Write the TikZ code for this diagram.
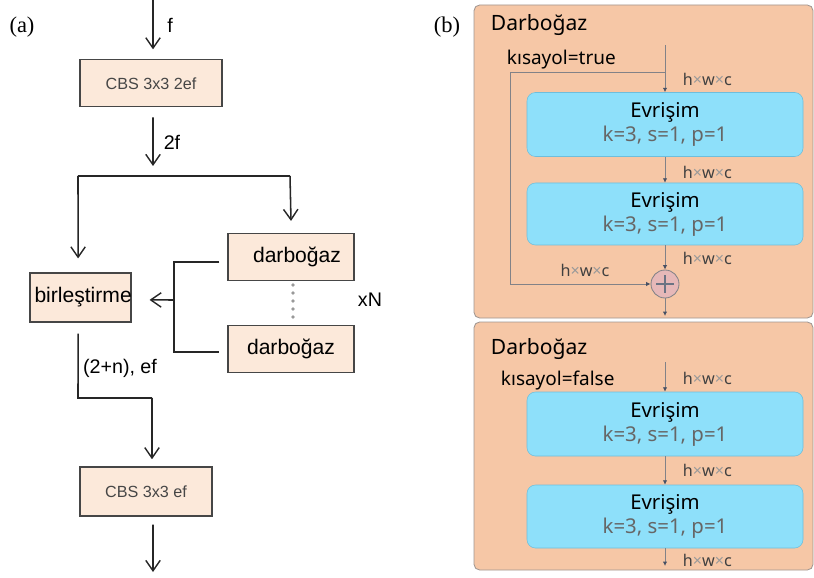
\documentclass[tikz,border=0pt]{standalone}
\usepackage{fontspec}
\setmainfont{Liberation Sans}
\newfontfamily\panelfont{Noto Sans}
\newfontfamily\tagfont{Liberation Serif}
\usetikzlibrary{arrows.meta, positioning, calc}
\definecolor{blockfill}{RGB}{252,233,218}
\definecolor{blockline}{RGB}{70,70,70}
\definecolor{darbfill}{RGB}{246,199,166}
\definecolor{darbline}{RGB}{160,150,145}
\definecolor{convfill}{RGB}{142,224,250}
\definecolor{convline}{RGB}{110,190,220}
\definecolor{addfill}{RGB}{230,184,184}
\definecolor{flowline}{RGB}{130,130,135}
\definecolor{tipcolor}{RGB}{70,80,100}

\begin{document}
\begin{tikzpicture}[
  block/.style={draw=blockline, fill=blockfill, line width=0.8pt, minimum height=1.175cm, inner sep=2pt},
  cbs/.style={block, font=\fontsize{11.5}{13}\selectfont, text=blockline},
  darb/.style={block, minimum width=3.15cm, font=\fontsize{15}{17}\selectfont},
  flow/.style={line width=1.1pt, draw=black!85, -{Straight Barb[length=2.6mm, width=3.6mm, line width=1pt]}},
  wire/.style={line width=1.1pt, draw=black!85},
  stage/.style={draw=darbline, fill=darbfill, rounded corners=4pt, line width=0.6pt},
  conv/.style={draw=convline, fill=convfill, rounded corners=6pt, minimum width=6.9cm, minimum height=1.6cm, align=center, font=\panelfont\fontsize{14.5}{18}\selectfont},
  link/.style={draw=flowline, line width=0.6pt, -{Latex[length=1.1mm, width=1.1mm, color=tipcolor]}},
  dims/.style={font=\panelfont\bfseries\fontsize{11.5}{13}\selectfont, text=black!75, anchor=west},
  tag/.style={font=\tagfont\fontsize{16}{18}\selectfont},
]
\useasboundingbox (0,0) rectangle (20.35,14.425);

% ---------------- (a) ----------------
\node[tag] (taga) at (0.55, 13.75) {(a)};

\coordinate (in) at (3.825, 14.425);
\node[cbs, minimum width=3.55cm] (cbs1) at (3.775, 12.34) {CBS 3x3 2ef};
\draw[flow] (in) -- ($(cbs1.north)+(0.05,0.25)$);
\node[font=\fontsize{14}{16}\selectfont] (fin) at (4.25, 13.8) {f};

\coordinate (split) at (3.825, 10.025);
\draw[flow] ($(cbs1.south)+(0.05,-0.25)$) -- ($(split)+(0,0.25)$);
\node[font=\fontsize{14}{16}\selectfont] (ftwo) at (4.3, 10.875) {2f};

% bottleneck stack
\node[darb] (darb1) at (7.275, 8.0) {\hspace*{0.3cm}darbo\u{g}az};
\node[darb] (darb2) at (7.275, 5.7) {darbo\u{g}az};
\node[block, minimum width=2.525cm, minimum height=1.225cm, font=\fontsize{15}{17}\selectfont] (concat) at (2.0125, 6.9875) {\makebox[2.3cm][l]{birle\c{s}tirme}};

\coordinate (splitl) at (1.95, 10.025);
\coordinate (splitr) at (7.25, 10.025);
\draw[wire] (splitl) -- (splitr);
\draw[flow] (splitl) -- ($(concat.north)+(-0.06,0.35)$);
\draw[flow] (splitr) -- ($(darb1.north)+(0,0.3)$);

% gather
\coordinate (gather) at (4.35, 6.925);
\draw[wire] ($(darb1.west)+(-0.2,-0.125)$) -| (gather) |- ($(darb2.west)+(-0.2,-0.075)$);
\draw[flow] (gather) -- ($(concat.east)+(0.45,-0.06)$);
\foreach \y in {7.3, 7.1, 6.9, 6.7, 6.5}
  \fill[black!40] (7.325, \y) circle (1.4pt);
\node[font=\fontsize{14}{16}\selectfont] (rep) at (9.25, 6.925) {xN};

% output
\node[cbs, minimum width=3.3cm, minimum height=1.225cm] (cbs2) at (3.65, 2.1375) {CBS 3x3 ef};
\draw[wire] ($(concat.south)+(-0.06,-0.275)$) -- (1.95, 4.475) -- (3.8, 4.475);
\draw[flow] (3.8, 4.475) -- ($(cbs2.north)+(0.15,0.18)$);
\node[font=\fontsize{14}{16}\selectfont] (cat) at (3.0, 5.225) {(2+n), ef};
\coordinate (out) at (3.825, 0.125);
\draw[flow] ($(cbs2.south)+(0.175,-0.2)$) -- (out);

% ---------------- (b) ----------------
\node[tag] (tagb) at (11.175, 13.75) {(b)};

% shortcut = true
\draw[stage] (11.85, 6.475) rectangle (20.325, 14.3);
\node[font=\panelfont\fontsize{15}{17}\selectfont, anchor=west] (titlet) at (12.15, 13.8) {Darbo\u{g}az};
\node[font=\panelfont\fontsize{13.5}{16}\selectfont, anchor=west] (flagt) at (12.55, 12.925) {k\i sayol=true};
\node[conv] (convt1) at (16.625, 11.3125) {Evri\c{s}im\\[-1pt]\textcolor{black!60}{k=3, s=1, p=1}};
\node[conv, minimum height=1.55cm] (convt2) at (16.625, 9.075) {Evri\c{s}im\\[-1pt]\textcolor{black!60}{k=3, s=1, p=1}};
\node[circle, draw=flowline, fill=addfill, line width=0.6pt, minimum size=0.7cm, inner sep=0pt] (add) at (16.625, 7.325) {};
\draw[tipcolor!80, line width=1.1pt] ($(add.center)+(-0.22,0)$) -- ($(add.center)+(0.22,0)$) ($(add.center)+(0,-0.22)$) -- ($(add.center)+(0,0.22)$);

\coordinate (topt) at (16.625, 13.3);
\coordinate (skip) at (16.625, 12.625);
\draw[link] (topt) -- (convt1.north);
\draw[draw=flowline, line width=0.6pt] (skip) -- (12.75, 12.625) -- (12.75, 7.325);
\draw[link] (12.75, 7.325) -- (add.west);
\draw[link] (convt1.south) -- (convt2.north);
\draw[link] (convt2.south) -- (add.north);
\coordinate (endt) at (16.625, 6.525);
\draw[link] (add.south) -- (endt);

\node[dims] (dt1) at (16.95, 12.45) {h\textcolor{black!40}{\texttimes}w\textcolor{black!40}{\texttimes}c};
\node[dims] (dt2) at (16.95, 10.125) {h\textcolor{black!40}{\texttimes}w\textcolor{black!40}{\texttimes}c};
\node[dims] (dt3) at (16.95, 7.975) {h\textcolor{black!40}{\texttimes}w\textcolor{black!40}{\texttimes}c};
\node[dims, anchor=center] (dt4) at (14.625, 7.675) {h\textcolor{black!40}{\texttimes}w\textcolor{black!40}{\texttimes}c};

% shortcut = false
\draw[stage] (11.85, 0.175) rectangle (20.325, 6.375);
\node[font=\panelfont\fontsize{15}{17}\selectfont, anchor=west] (titlef) at (12.15, 5.7) {Darbo\u{g}az};
\node[font=\panelfont\fontsize{13.5}{16}\selectfont, anchor=west] (flagf) at (12.4, 4.9) {k\i sayol=false};
\node[conv] (convf1) at (16.625, 3.825) {Evri\c{s}im\\[-1pt]\textcolor{black!60}{k=3, s=1, p=1}};
\node[conv, minimum height=1.575cm] (convf2) at (16.625, 1.5125) {Evri\c{s}im\\[-1pt]\textcolor{black!60}{k=3, s=1, p=1}};

\coordinate (topf) at (16.625, 5.375);
\coordinate (endf) at (16.625, 0.275);
\draw[link] (topf) -- (convf1.north);
\draw[link] (convf1.south) -- (convf2.north);
\draw[link] (convf2.south) -- (endf);

\node[dims] (df1) at (16.95, 4.975) {h\textcolor{black!40}{\texttimes}w\textcolor{black!40}{\texttimes}c};
\node[dims] (df2) at (16.95, 2.675) {h\textcolor{black!40}{\texttimes}w\textcolor{black!40}{\texttimes}c};
\node[dims] (df3) at (16.95, 0.425) {h\textcolor{black!40}{\texttimes}w\textcolor{black!40}{\texttimes}c};
\end{tikzpicture}
\end{document}
